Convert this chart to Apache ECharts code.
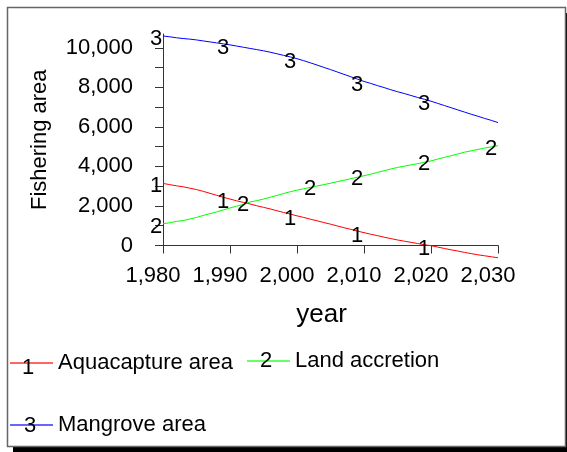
<!DOCTYPE html>
<html>
<head>
<meta charset="utf-8">
<script src="https://cdn.jsdelivr.net/npm/echarts@6/dist/echarts.min.js"></script>
<style>
  html, body { margin: 0; padding: 0; background: #fff; }
  #chart { width: 567px; height: 452px; }
</style>
</head>
<body>
<div id="chart"></div>
<script>
const FONT = "'Liberation Sans', Arial, sans-serif";

const years = [
  1980, 1981, 1982, 1983, 1984, 1985, 1986, 1987, 1988, 1989,
  1990, 1991, 1992, 1993, 1994, 1995, 1996, 1997, 1998, 1999,
  2000, 2001, 2002, 2003, 2004, 2005, 2006, 2007, 2008, 2009,
  2010, 2011, 2012, 2013, 2014, 2015, 2016, 2017, 2018, 2019,
  2020, 2021, 2022, 2023, 2024, 2025, 2026, 2027, 2028, 2029,
  2030
];
const aquacapture = [
  3140, 3080, 3020, 2970, 2900, 2830, 2740, 2640, 2540, 2440,
  2350, 2260, 2180, 2100, 2010, 1930, 1850, 1760, 1670, 1590,
  1500, 1420, 1330, 1250, 1160, 1080, 990, 900, 820, 730,
  650, 570, 500, 420, 350, 280, 220, 160, 100, 40,
  -10, -80, -150, -220, -280, -350, -410, -470, -520, -570,
  -620
];
const landAccretion = [
  1100, 1150, 1220, 1260, 1340, 1420, 1520, 1610, 1700, 1800,
  1900, 1990, 2080, 2200, 2270, 2350, 2440, 2530, 2630, 2720,
  2800, 2870, 2940, 3010, 3080, 3150, 3230, 3300, 3380, 3450,
  3530, 3610, 3700, 3780, 3870, 3950, 4010, 4080, 4140, 4210,
  4280, 4370, 4460, 4540, 4630, 4720, 4790, 4860, 4930, 4990,
  5050
];
const mangrove = [
  10600, 10560, 10510, 10470, 10440, 10400, 10350, 10300, 10250, 10200,
  10150, 10090, 10030, 9970, 9910, 9850, 9780, 9700, 9620, 9540,
  9450, 9350, 9240, 9130, 9010, 8900, 8780, 8660, 8540, 8420,
  8300, 8200, 8090, 7990, 7880, 7780, 7690, 7590, 7490, 7400,
  7300, 7190, 7080, 6970, 6860, 6750, 6640, 6540, 6430, 6330,
  6220
];

// years where the series numbers are written on the lines
const aquaMarks = [1980, 1990, 2000, 2010, 2020];
const landMarks = [1980, 1993, 2003, 2010, 2020, 2030];
const mangroveMarks = [1980, 1990, 2000, 2010, 2020];

const xTicks = [1980, 1990, 2000, 2010, 2020, 2030];
const yLabels = [0, 2000, 4000, 6000, 8000, 10000];
const yTicks = [0, 1000, 2000, 3000, 4000, 5000, 6000, 7000, 8000, 9000, 10000];

const pair = (vals) => years.map((y, i) => [y, vals[i]]);
const marksOf = (vals, at) => at.map((y) => [y, vals[years.indexOf(y)]]);

function lineSeries(name, vals, color) {
  return {
    name: name,
    type: "line",
    data: pair(vals),
    symbol: "none",
    clip: false,
    silent: true,
    lineStyle: { color: color, width: 1 },
    itemStyle: { color: color },
    z: 3,
  };
}
function numberSeries(num, vals, at) {
  return {
    type: "scatter",
    data: marksOf(vals, at),
    symbolSize: 1,
    clip: false,
    silent: true,
    itemStyle: { color: "rgba(0,0,0,0)", opacity: 1 },
    label: {
      show: true,
      position: "inside",
      offset: [-7, 3],
      formatter: num,
      color: "#000",
      textBorderWidth: 0,
      fontSize: 22,
      fontFamily: FONT,
    },
    z: 4,
  };
}

const legendBase = {
  padding: 0,
  icon: "rect",
  itemWidth: 43,
  itemHeight: 2,
  selectedMode: false,
  itemStyle: { opacity: 0.6 },
  textStyle: { color: "#000", fontSize: 22, fontFamily: FONT },
};
const legendDigit = (t, x, y) => ({
  type: "text",
  x: x,
  y: y,
  z: 10,
  style: { text: t, fill: "#000", font: "22px " + FONT, align: "center", verticalAlign: "middle" },
});

const chart = echarts.init(document.getElementById("chart"));
chart.setOption({
  animation: false,
  textStyle: { fontFamily: FONT },
  grid: { left: 163, top: 34, right: 69, bottom: 206.5, outerBoundsMode: "none" },
  graphic: [
    { type: "rect", z: -3, shape: { x: 13, y: 13, width: 560, height: 440 }, style: { fill: "#000" } },
    { type: "rect", z: -2, shape: { x: 7.5, y: 7.5, width: 558, height: 439 }, style: { fill: "#fff", stroke: "#666", lineWidth: 1.5 } },
    legendDigit("1", 28, 368),
    legendDigit("2", 266, 361),
    legendDigit("3", 30, 426),
  ],
  legend: [
    Object.assign({ data: ["Aquacapture area"], left: 10, top: 352 }, legendBase),
    Object.assign({ data: ["Land accretion"], left: 247, top: 350 }, legendBase),
    Object.assign({ data: ["Mangrove area"], left: 10, top: 414 }, legendBase),
  ],
  xAxis: {
    type: "value",
    min: 1980,
    max: 2030,
    interval: 10,
    name: "year",
    nameLocation: "middle",
    nameGap: 56,
    nameTextStyle: { color: "#000", fontSize: 26, fontFamily: FONT, padding: [0, 18, 0, 0] },
    axisLine: { lineStyle: { color: "#333", width: 1 } },
    axisTick: { length: 8, lineStyle: { color: "#333" }, customValues: xTicks },
    axisLabel: {
      customValues: xTicks,
      margin: 19,
      color: "#000",
      fontSize: 22,
      fontFamily: FONT,
      padding: [0, 20, 0, 0],
      formatter: (v) => v.toLocaleString("en-US"),
    },
    splitLine: { show: false },
  },
  yAxis: {
    type: "value",
    min: 0,
    max: 10700,
    name: "Fishering area",
    nameLocation: "middle",
    nameRotate: 90,
    nameGap: 112,
    nameTextStyle: { color: "#000", fontSize: 22, fontFamily: FONT },
    axisLine: { show: true, lineStyle: { color: "#333", width: 1 } },
    axisTick: { show: true, length: 8, lineStyle: { color: "#333" }, customValues: yTicks },
    axisLabel: {
      customValues: yLabels,
      margin: 30,
      color: "#000",
      fontSize: 22,
      fontFamily: FONT,
      formatter: (v) => v.toLocaleString("en-US"),
    },
    splitLine: { show: false },
  },
  series: [
    lineSeries("Aquacapture area", aquacapture, "#ff0000"),
    lineSeries("Land accretion", landAccretion, "#00ff00"),
    lineSeries("Mangrove area", mangrove, "#0000ff"),
    numberSeries("1", aquacapture, aquaMarks),
    numberSeries("2", landAccretion, landMarks),
    numberSeries("3", mangrove, mangroveMarks),
  ],
});
</script>
</body>
</html>
